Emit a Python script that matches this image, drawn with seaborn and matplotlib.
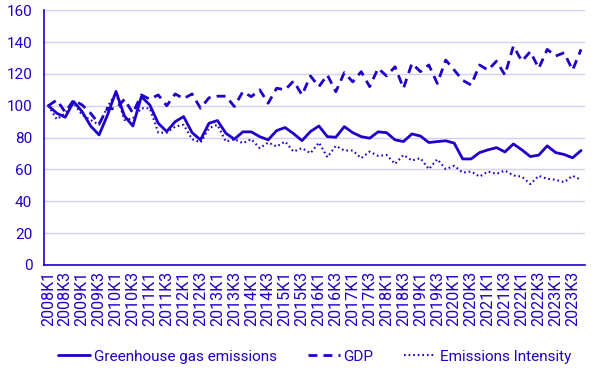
import matplotlib
matplotlib.use("Agg")
import matplotlib.pyplot as plt
import numpy as np
import pandas as pd
import seaborn as sns

# Kvartal 2008K1 - 2023K4
years = list(range(2008, 2024))
quarters = [f"{y}K{q}" for y in years for q in range(1, 5)]

ghg = [100, 95.3, 92.8, 102.6, 96.3, 87.3, 81.7, 94.2, 109, 93.6, 87.3, 105.7,
       100.5, 89, 83.8, 90, 93.2, 83.1, 78.6, 89, 90.7, 82.7, 79, 83.6,
       83.6, 80.6, 78.6, 84.4, 86.3, 82.5, 78.1, 83.8, 87.3, 80.6, 80.2, 86.9,
       83.1, 80.6, 79.6, 83.6, 83.1, 78.6, 77.5, 82.3, 81, 76.9, 77.5, 78,
       76.5, 66.6, 66.6, 70.6, 72.3, 73.7, 71, 76, 72.3, 68.1, 69, 74.8,
       70.6, 69.4, 67.3, 71.9]

gdp = [100, 103.6, 96, 103.6, 100.5, 95.3, 88.6, 98.4, 98, 104.1, 95.3, 106.8,
       104.1, 106.8, 100, 107.4, 104.5, 107.4, 98.4, 105, 106, 106, 99.5, 108.8,
       105.7, 110, 101.6, 111, 110, 115.5, 106.8, 118.7, 112, 119.3, 108.8, 120.8,
       115, 121.4, 112, 123.5, 118.7, 124.5, 111, 126.6, 121.4, 125.6, 114, 128.7,
       122.4, 116, 113, 125.6, 122.4, 128, 119.3, 137.5, 128, 134, 123.5, 135.4,
       131.2, 133.3, 122.4, 135.4]

intensity = [100, 91.5, 95.3, 101.6, 94.2, 91.1, 88, 99.4, 108, 91.1, 92, 98.4,
             98.4, 83.1, 83.1, 86.9, 88, 79, 76.9, 85.9, 88, 77.5, 79, 76.5,
             79, 73.4, 76.9, 74.4, 77.5, 71.2, 73.4, 70.2, 76.9, 67.7, 74.8, 71.9,
             71.9, 67.1, 71.2, 68.5, 69.1, 63.5, 69.1, 65.6, 67.1, 60.2, 66.4, 60.2,
             62.3, 58, 58.7, 55.5, 58.7, 57.2, 59.3, 56.2, 55.5, 50.8, 56, 54.1,
             53.5, 52, 56, 53.5]

series_names = ["Greenhouse gas emissions", "GDP", "Emissions Intensity"]

BLUE = "#1e00c8"
GRID = "#d4d0ee"

sns.set_style("white")
plt.rcParams["font.family"] = ["Roboto", "DejaVu Sans"]

df = pd.DataFrame({
    "kvartal": np.arange(len(quarters)),
    series_names[0]: ghg,
    series_names[1]: gdp,
    series_names[2]: intensity,
}).melt(id_vars="kvartal", var_name="serie", value_name="index")

fig = plt.figure(figsize=(5.96, 3.92), dpi=100)
ax = fig.add_axes([0.074, 0.324, 0.908, 0.650])

styles = {
    series_names[0]: dict(linestyle="-", linewidth=2.0),
    series_names[1]: dict(linestyle=(0, (3.2, 2.2)), linewidth=2.0),
    series_names[2]: dict(linestyle=(0, (0.8, 1.4)), linewidth=1.5),
}
for name in series_names:
    sub = df[df["serie"] == name]
    sns.lineplot(data=sub, x="kvartal", y="index", ax=ax, color=BLUE,
                 label=name, **styles[name])

ax.set_xlim(-0.5, len(quarters) - 0.5)
ax.set_ylim(0, 160)
ax.set_yticks(range(0, 161, 20))
ax.set_xticks(range(0, len(quarters), 2))
ax.set_xticklabels(quarters[::2], rotation=90)
ax.set_xticks(np.arange(-0.5, len(quarters), 1), minor=True)
ax.tick_params(axis="x", which="major", length=0, pad=4, labelsize=11.5,
               labelcolor=BLUE)
ax.tick_params(axis="x", which="minor", length=5, width=1, color=BLUE)
ax.tick_params(axis="y", length=5, width=1, color=BLUE, labelsize=11, labelcolor=BLUE)
ax.set_xlabel("")
ax.set_ylabel("")

ax.grid(axis="y", color=GRID, linewidth=1)
ax.set_axisbelow(True)
for side in ["top", "right"]:
    ax.spines[side].set_visible(False)
for side in ["left", "bottom"]:
    ax.spines[side].set_color(BLUE)
    ax.spines[side].set_linewidth(1.2)

leg = ax.legend(loc="center", bbox_to_anchor=(0.5, -0.36), ncol=3,
                frameon=False, fontsize=11, handlelength=2.1, handletextpad=0.25,
                columnspacing=2.0)
for text in leg.get_texts():
    text.set_color(BLUE)

fig.savefig("out.png", dpi=100)
plt.close(fig)
